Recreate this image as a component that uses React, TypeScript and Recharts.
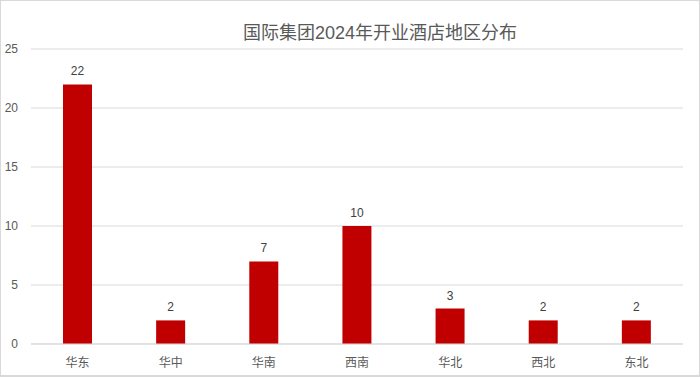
import { Bar, BarChart, CartesianGrid, LabelList, XAxis, YAxis } from "recharts";

const regions = ["华东", "华中", "华南", "西南", "华北", "西北", "东北"];
const hotelCounts = [22, 2, 7, 10, 3, 2, 2];
const yTicks = [0, 5, 10, 15, 20, 25];

const chartData = regions.map((region, i) => ({
  region,
  count: hotelCounts[i],
}));

const fontFamily = '"Liberation Sans", "Noto Sans CJK SC", sans-serif';

export default function App() {
  return (
    <div
      style={{
        position: "fixed",
        top: 0,
        left: 0,
        width: 700,
        height: 377,
        boxSizing: "border-box",
        border: "1px solid #d9d9d9",
        borderBottomWidth: 2,
        background: "#fff",
        fontFamily,
      }}
    >
      <div
        style={{
          position: "absolute",
          top: 17,
          left: 0,
          width: 758,
          textAlign: "center",
          fontSize: 18,
          color: "#595959",
        }}
      >
        国际集团2024年开业酒店地区分布
      </div>
      <BarChart
        width={698}
        height={374}
        data={chartData}
        margin={{ top: 48, right: 16, bottom: 6, left: 0 }}
        style={{ position: "absolute", top: 0, left: 0 }}
      >
        <CartesianGrid vertical={false} stroke="#d9d9d9" />
        <XAxis
          dataKey="region"
          axisLine={{ stroke: "#d9d9d9" }}
          tickLine={false}
          tickMargin={8}
          height={25}
          tick={{ fill: "#595959", fontSize: 12, fontFamily }}
        />
        <YAxis
          domain={[0, 25]}
          ticks={yTicks}
          width={30}
          axisLine={false}
          tickLine={false}
          tickMargin={7}
          tick={{ fill: "#595959", fontSize: 12, fontFamily }}
        />
        <Bar dataKey="count" fill="#C00000" barSize={29} isAnimationActive={false}>
          <LabelList
            dataKey="count"
            position="top"
            offset={9}
            fill="#404040"
            fontSize={12}
            fontFamily={fontFamily}
          />
        </Bar>
      </BarChart>
    </div>
  );
}
